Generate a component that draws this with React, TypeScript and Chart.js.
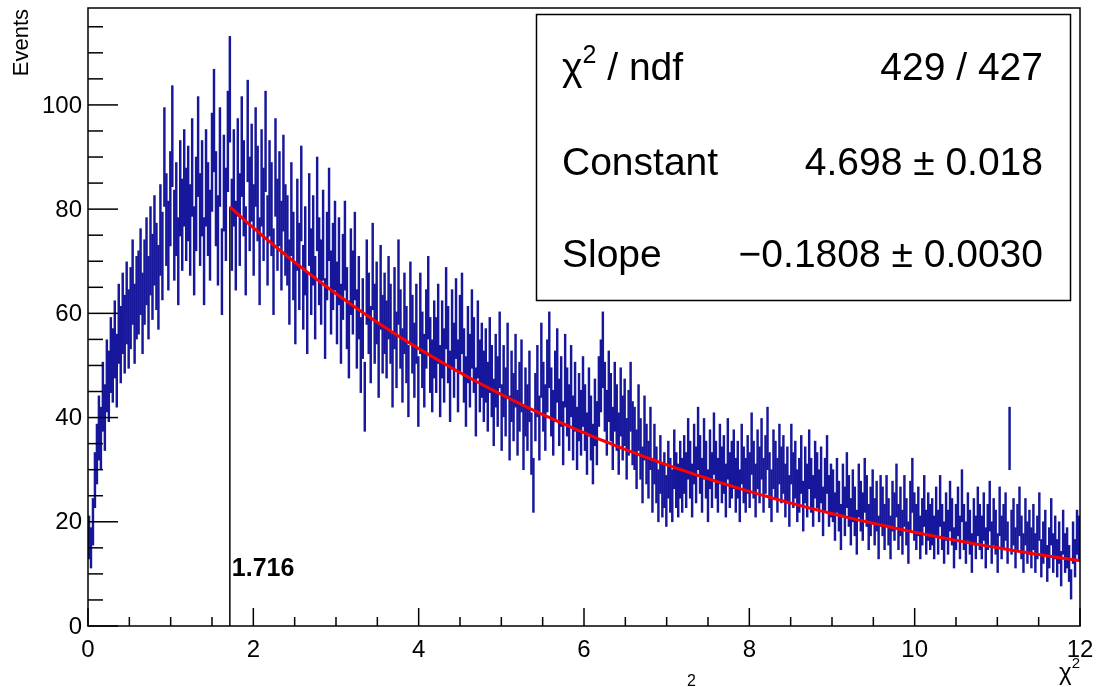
import React, { useEffect, useRef } from "react";
import { Chart, registerables } from "chart.js";

Chart.register(...registerables);

// Histogram: 500 bins of width 0.024 over chi^2 in [0, 12]
const xMin = 0;
const xMax = 12;
const binWidth = 0.024;

const counts: number[] = [
  // 0.0 - 0.6
  17, 15, 20, 28, 33, 38, 36, 44, 40, 48, 46, 52, 50, 55, 49, 58, 54, 60, 56, 62, 57, 61, 66, 58, 63,
  // 0.6 - 1.2
  64, 68, 60, 66, 70, 63, 72, 67, 74, 69, 65, 76, 71, 90, 78, 73, 82, 94, 75, 80, 70, 84, 77, 86, 79,
  // 1.2 - 1.8
  83, 76, 88, 72, 81, 92, 78, 84, 70, 86, 80, 75, 89, 97, 82, 74, 90, 68, 85, 79, 93, 103, 77, 86, 73,
  // 1.8 - 2.4
  88, 78, 92, 84, 72, 95, 81, 87, 76, 90, 83, 70, 86, 79, 93, 74, 84, 80, 68, 88, 77, 82, 73, 85, 76,
  // 2.4 - 3.0
  74, 66, 80, 71, 62, 77, 69, 83, 65, 72, 60, 78, 68, 74, 63, 81, 70, 66, 75, 59, 71, 79, 64, 69, 73,
  // 3.0 - 3.6
  62, 70, 58, 67, 73, 61, 55, 68, 64, 71, 57, 63, 52, 59, 44, 66, 60, 54, 69, 58, 62, 51, 65, 56, 60,
  // 3.6 - 4.2
  55, 63, 58, 49, 61, 53, 66, 57, 50, 60, 54, 47, 62, 56, 51, 58, 45, 60, 53, 49, 57, 63, 52, 48, 55,
  // 4.2 - 4.8
  52, 58, 47, 55, 50, 61, 54, 46, 57, 51, 59, 48, 56, 60, 50, 45, 54, 49, 57, 52, 43, 55, 48, 51, 46,
  // 4.8 - 5.4
  50, 44, 52, 47, 41, 49, 45, 53, 40, 47, 43, 51, 38, 46, 42, 49, 39, 44, 48, 36, 43, 40, 46, 35, 27,
  // 5.4 - 6.0
  42, 47, 38, 51, 44, 40, 48, 53, 43, 39, 46, 50, 41, 45, 37, 49, 43, 40, 47, 38, 44, 36, 42, 39, 45,
  // 6.0 - 6.6
  40, 35, 43, 38, 33, 41, 37, 45, 48, 53, 44, 39, 46, 42, 36, 44, 40, 35, 43, 38, 41, 34, 39, 44, 37,
  // 6.6 - 7.2
  36, 32, 40, 34, 29, 38, 33, 30, 36, 27, 33, 29, 25, 31, 26, 28, 24, 30, 27, 25, 32, 28, 26, 30, 27,
  // 7.2 - 7.8
  31, 28, 34, 30, 26, 33, 29, 36, 31, 27, 34, 30, 25, 32, 28, 35, 30, 27, 33, 29, 31, 26, 34, 28, 30,
  // 7.8 - 8.4
  32, 27, 30, 25, 33, 29, 27, 31, 28, 35, 30, 26, 32, 29, 34, 27, 31, 36, 28, 25, 32, 30, 27, 33, 29,
  // 8.4 - 9.0
  31, 26, 29, 24, 33, 28, 30, 25, 27, 31, 23, 29, 26, 32, 27, 24, 30, 28, 25, 29, 22, 27, 31, 24, 26,
  // 9.0 - 9.6
  25, 21, 27, 23, 19, 26, 22, 28, 24, 20, 25, 22, 18, 26, 23, 21, 27, 24, 19, 22, 25, 20, 23, 17, 24,
  // 9.6 - 10.2
  22, 19, 24, 20, 17, 23, 21, 26, 19, 22, 18, 24, 20, 16, 23, 27, 21, 19, 22, 17, 20, 24, 18, 21, 19,
  // 10.2 - 10.8
  20, 17, 22, 18, 24, 19, 16, 21, 18, 23, 20, 15, 19, 22, 17, 25, 19, 16, 21, 18, 14, 20, 17, 22, 19,
  // 10.8 - 11.4
  17, 21, 15, 19, 23, 16, 20, 18, 14, 22, 17, 19, 21, 16, 36, 18, 20, 15, 19, 22, 17, 14, 20, 16, 18,
  // 11.4 - 12.0
  15, 19, 14, 17, 21, 13, 16, 18, 12, 15, 20, 14, 17, 13, 16, 11, 18, 14, 15, 12, 8, 16, 13, 18, 17,
];

// Fit result (expo: exp(Constant + Slope * x)), fit range start
const fitConstant = 4.698;
const fitSlope = -0.1808;
const fitStart = 1.716;
const fitEnd = 12;

const xTickLabels = ["0", "2", "4", "6", "8", "10", "12"];
const yTickLabels = ["0", "20", "40", "60", "80", "100"];

const statsRows: [string, string][] = [
  ["χ2 / ndf", "429 / 427"],
  ["Constant", "4.698 ± 0.018"],
  ["Slope", "−0.1808 ± 0.0030"],
];

const FONT = '"Liberation Sans", Arial, Helvetica, sans-serif';

export default function App() {
  const canvasRef = useRef<HTMLCanvasElement | null>(null);

  useEffect(() => {
    const canvas = canvasRef.current;
    if (!canvas) return;

    const histData = counts.map((v, i) => {
      const e = Math.sqrt(v);
      return { x: xMin + (i + 0.5) * binWidth, y: [v - e, v + e] };
    });

    const fitPts: { x: number; y: number }[] = [];
    const nFit = 200;
    for (let k = 0; k <= nFit; k++) {
      const xv = fitStart + ((fitEnd - fitStart) * k) / nFit;
      fitPts.push({ x: xv, y: Math.exp(fitConstant + fitSlope * xv) });
    }
    const fitAtStart = Math.exp(fitConstant + fitSlope * fitStart);

    const axesPlugin = {
      id: "rootAxes",
      afterDraw(chart: any) {
        const { ctx, chartArea, scales } = chart;
        const { left, right, top, bottom } = chartArea;
        const xs = scales.x;
        const ys = scales.y;
        ctx.save();

        // threshold label
        ctx.fillStyle = "#000";
        ctx.font = `bold 25px ${FONT}`;
        ctx.textAlign = "left";
        ctx.textBaseline = "alphabetic";
        ctx.fillText(fitStart.toFixed(3), xs.getPixelForValue(fitStart) + 2, 576);

        // stats box
        const bx = 536, by = 14, bw = 534, bh = 286;
        ctx.fillStyle = "#fff";
        ctx.fillRect(bx, by, bw, bh);
        ctx.strokeStyle = "#000";
        ctx.lineWidth = 1.5;
        ctx.strokeRect(bx + 0.5, by + 0.5, bw, bh);
        ctx.fillStyle = "#000";
        const baselines = [80, 175, 267];
        statsRows.forEach(([label, value], r) => {
          const yb = baselines[r];
          ctx.font = `39px ${FONT}`;
          ctx.textAlign = "left";
          if (label.startsWith("χ2")) {
            ctx.fillText("χ", 562, yb);
            const w = ctx.measureText("χ").width;
            ctx.font = `25px ${FONT}`;
            ctx.fillText("2", 562 + w, yb - 17);
            const w2 = ctx.measureText("2").width;
            ctx.font = `39px ${FONT}`;
            ctx.fillText(" / ndf", 562 + w + w2, yb);
          } else {
            ctx.fillText(label, 562, yb);
          }
          ctx.textAlign = "right";
          ctx.fillText(value, 1043, yb);
        });

        // frame
        ctx.strokeStyle = "#000";
        ctx.lineWidth = 1.5;
        ctx.strokeRect(left, top, right - left, bottom - top);

        // x ticks
        ctx.lineWidth = 1.5;
        for (let k = 0; k <= 24; k++) {
          const v = k * 0.5;
          const px = xs.getPixelForValue(v);
          const len = k % 4 === 0 ? 18 : 9;
          ctx.beginPath();
          ctx.moveTo(px, bottom);
          ctx.lineTo(px, bottom - len);
          ctx.stroke();
        }
        // y ticks
        for (let k = 0; k <= 23; k++) {
          const v = k * 5;
          const py = ys.getPixelForValue(v);
          const len = k % 4 === 0 ? 30 : 15;
          ctx.beginPath();
          ctx.moveTo(left, py);
          ctx.lineTo(left + len, py);
          ctx.stroke();
        }

        // tick labels
        ctx.fillStyle = "#000";
        ctx.font = `24px ${FONT}`;
        ctx.textAlign = "center";
        ctx.textBaseline = "alphabetic";
        xTickLabels.forEach((t) => {
          ctx.fillText(t, xs.getPixelForValue(Number(t)), 657);
        });
        ctx.textAlign = "right";
        ctx.textBaseline = "middle";
        yTickLabels.forEach((t) => {
          ctx.fillText(t, left - 6, ys.getPixelForValue(Number(t)) + 1);
        });

        // x axis title (chi^2) at right end
        ctx.textBaseline = "alphabetic";
        ctx.textAlign = "left";
        ctx.font = `24px ${FONT}`;
        const chiW = ctx.measureText("χ").width;
        ctx.font = `15px ${FONT}`;
        const supW = ctx.measureText("2").width;
        const startX = right - chiW - supW;
        ctx.font = `24px ${FONT}`;
        ctx.fillText("χ", startX, 680);
        ctx.font = `15px ${FONT}`;
        ctx.fillText("2", startX + chiW, 668);

        // cropped title fragment at the bottom
        ctx.font = `16px ${FONT}`;
        ctx.textBaseline = "top";
        ctx.fillText("2", 687, 674);

        // y axis title
        ctx.save();
        ctx.translate(28, 9);
        ctx.rotate(-Math.PI / 2);
        ctx.font = `22px ${FONT}`;
        ctx.textAlign = "right";
        ctx.textBaseline = "alphabetic";
        ctx.fillText("Events", 0, 0);
        ctx.restore();

        ctx.restore();
      },
    };

    const chart = new Chart(canvas, {
      type: "bar",
      data: {
        datasets: [
          {
            type: "line",
            data: fitPts,
            borderColor: "#ff0000",
            borderWidth: 3,
            pointRadius: 0,
            tension: 0,
          } as any,
          {
            type: "line",
            data: [
              { x: fitStart, y: 0 },
              { x: fitStart, y: fitAtStart },
            ],
            borderColor: "#000",
            borderWidth: 1.5,
            pointRadius: 0,
          } as any,
          {
            type: "bar",
            data: histData as any,
            backgroundColor: "#17179c",
            borderWidth: 0,
            barThickness: 1.8,
            grouped: false,
          } as any,
        ],
      },
      options: {
        responsive: false,
        animation: false,
        devicePixelRatio: 1,
        layout: { padding: { left: 88, right: 16, top: 8, bottom: 61 } },
        plugins: { legend: { display: false }, tooltip: { enabled: false } },
        scales: {
          x: { type: "linear", min: xMin, max: xMax, display: false, offset: false },
          y: { type: "linear", min: 0, max: 118.6, display: false },
        },
      },
      plugins: [axesPlugin],
    });

    return () => chart.destroy();
  }, []);

  return (
    <div style={{ position: "absolute", left: 0, top: 0, width: 1096, height: 687, background: "#fff" }}>
      <canvas ref={canvasRef} width={1096} height={687} style={{ display: "block" }} />
    </div>
  );
}
